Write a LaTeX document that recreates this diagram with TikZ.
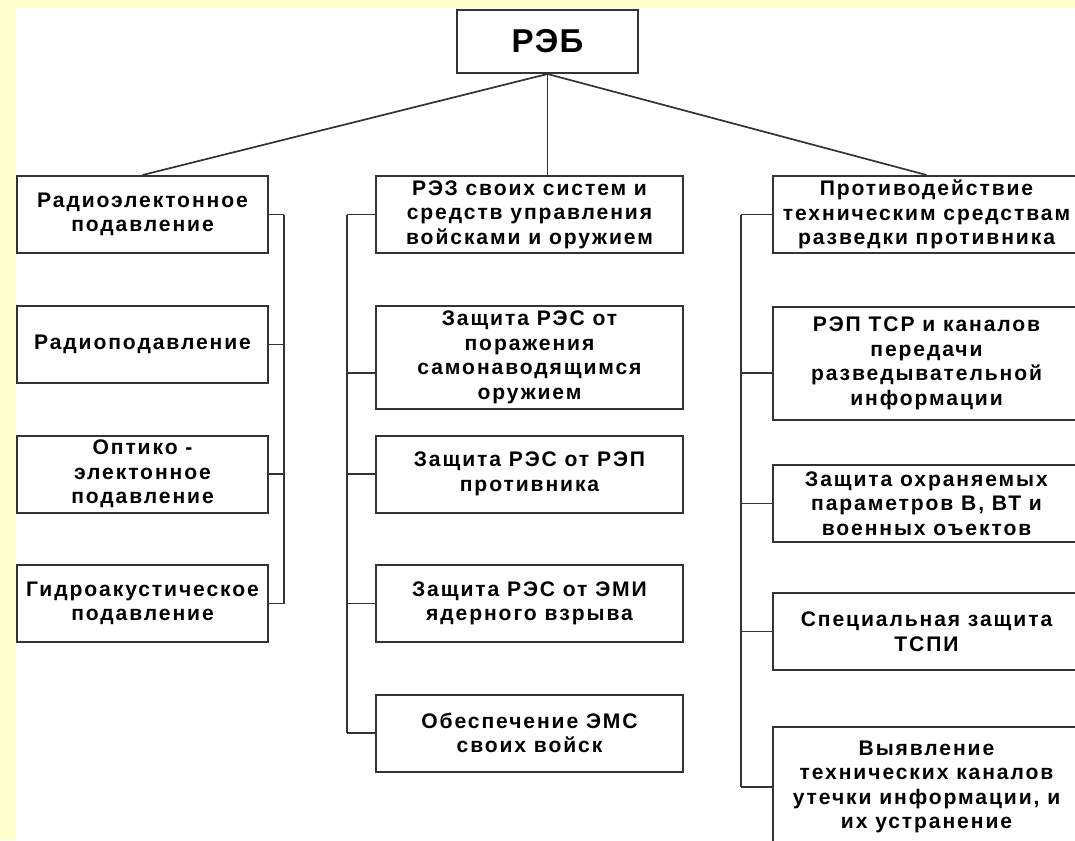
\documentclass[tikz,border=0pt]{standalone}
\usepackage{fontspec}
\newfontfamily\diagfont{Liberation Sans}[LetterSpace=9]
\usepackage{tikz}
\definecolor{bgyellow}{HTML}{FFFFCC}
\definecolor{linegray}{HTML}{333333}
\tikzset{
  box/.style={draw=linegray, line width=0.02cm, rectangle, align=center, inner sep=0pt,
    minimum height=0.77cm, font=\diagfont\bfseries\fontsize{6.0}{7.0}\selectfont},
  lbox/.style={box, minimum width=2.51cm},
  wbox/.style={box, minimum width=3.07cm},
  link/.style={draw=linegray, line width=0.017cm}
}

\begin{document}
\begin{tikzpicture}
\useasboundingbox (0,0) rectangle (10.75,-8.4);
\fill[bgyellow] (0,0) rectangle (10.75,-8.4);
\fill[white] (0.16,-0.08) rectangle (10.75,-8.4);

\node[box, minimum width=1.81cm, minimum height=0.63cm,
  font=\diagfont\addfontfeature{LetterSpace=4}\bfseries\fontsize{9.4}{11}\selectfont] (REB) at (5.475,-0.415) {РЭБ};

\node[lbox] (L1) at (1.425,-2.145) {Радиоэлектонное\\подавление};
\node[lbox] (L2) at (1.425,-3.445) {Радиоподавление};
\node[lbox] (L3) at (1.425,-4.74) {Оптико -\\электонное\\подавление};
\node[lbox] (L4) at (1.425,-6.035) {Гидроакустическое\\подавление};

\node[wbox] (C1) at (5.295,-2.145) {РЭЗ своих систем и\\средств управления\\войсками и оружием};
\node[wbox, minimum height=1.03cm] (C2) at (5.295,-3.575) {Защита РЭС от\\поражения\\самонаводящимся\\оружием};
\node[wbox] (C3) at (5.295,-4.74) {Защита РЭС от РЭП\\противника};
\node[wbox] (C4) at (5.295,-6.035) {Защита РЭС от ЭМИ\\ядерного взрыва};
\node[wbox] (C5) at (5.295,-7.33) {Обеспечение ЭМС\\своих войск};

\node[wbox] (R1) at (9.265,-2.145) {Противодействие\\техническим средствам\\разведки противника};
\node[wbox, minimum height=1.13cm] (R2) at (9.265,-3.635) {РЭП ТСР и каналов\\передачи\\разведывательной\\информации};
\node[wbox] (R3) at (9.265,-5.035) {Защита охраняемых\\параметров В, ВТ и\\военных оъектов};
\node[wbox] (R4) at (9.265,-6.315) {Специальная защита\\ТСПИ};
\node[wbox, minimum height=1.2cm] (R5) at (9.265,-7.87) {Выявление\\технических каналов\\утечки информации, и\\их устранение};

\coordinate (Lbus) at (2.84,0);
\coordinate (Cbus) at (3.47,0);
\coordinate (Rbus) at (7.41,0);

\draw[link] (REB.south) -- (L1.north);
\draw[link] (REB.south) -- (REB.south |- C1.north);
\draw[link] (REB.south) -- (R1.north);

\draw[link] \foreach \n in {L1,L2,L3,L4}
{
	(\n.east) -- (\n.east -| Lbus)
};
\draw[link] (L1.east -| Lbus) -- (L4.east -| Lbus);

\draw[link] \foreach \n/\s in {C1/0,C2/-0.155,C3/0,C4/0,C5/0}
{
	([yshift=\s cm]\n.west) -- ([yshift=\s cm]\n.west -| Cbus)
};
\draw[link] (C1.west -| Cbus) -- (C5.west -| Cbus);

\draw[link] \foreach \n/\s in {R1/0,R2/-0.095,R3/0,R4/0,R5/0}
{
	([yshift=\s cm]\n.west) -- ([yshift=\s cm]\n.west -| Rbus)
};
\draw[link] (R1.west -| Rbus) -- (R5.west -| Rbus);

\end{tikzpicture}
\end{document}
